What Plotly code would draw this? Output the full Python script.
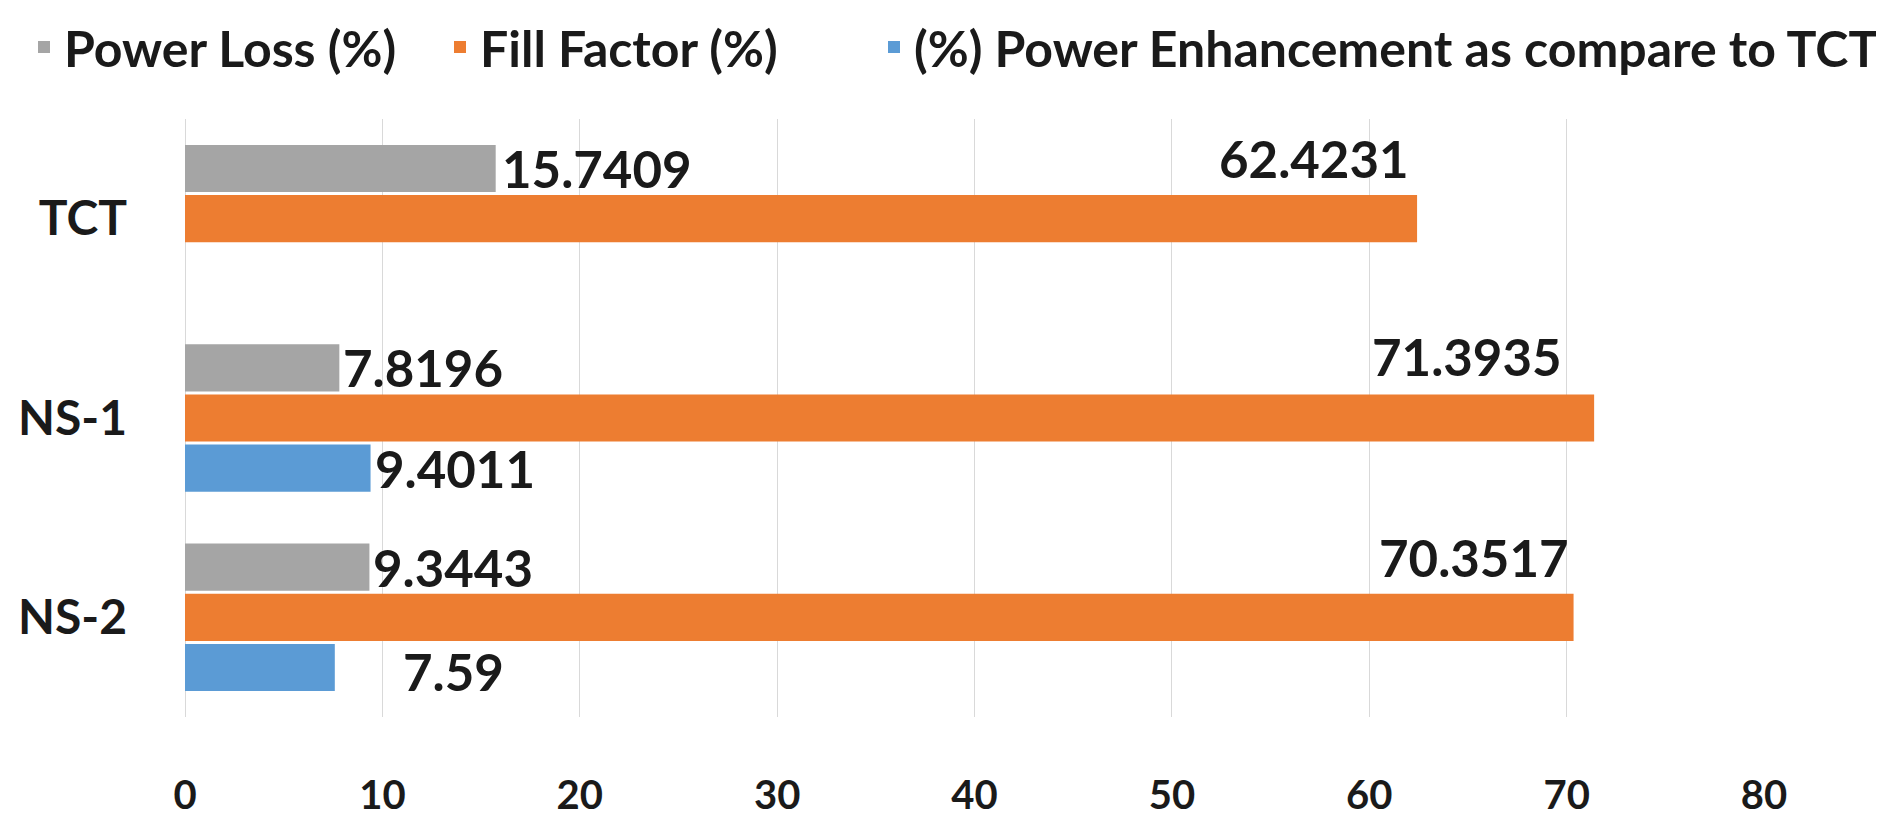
import plotly.graph_objects as go

categories = ["TCT", "NS-1", "NS-2"]
power_loss = [15.7409, 7.8196, 9.3443]
fill_factor = [62.4231, 71.3935, 70.3517]
power_enh = [None, 9.4011, 7.59]
series_names = ["Power Loss (%)", "Fill Factor (%)", "(%) Power Enhancement as compare to TCT"]
x_ticks = [0, 10, 20, 30, 40, 50, 60, 70, 80]

colors = ["#A5A5A5", "#ED7D31", "#5B9BD5"]
FONT = "Lato, 'Liberation Sans', Arial, sans-serif"
BARGAP = 0.245
W, H = 1884, 840
ML, MR, MT, MB = 177, 128, 111, 131

legend_ids = ["legend", "legend2", "legend3"]
legend_left_px = [16, 432, 866]   # left edge of each legend entry (container pixels)

fig = go.Figure()
all_series = [power_loss, fill_factor, power_enh]
for name, vals, col, lid in zip(series_names, all_series, colors, legend_ids):
    fig.add_trace(go.Bar(
        y=categories, x=vals, orientation="h", name=name,
        marker=dict(color=col, line=dict(width=0)),
        hoverinfo="x+name", legend=lid,
    ))

# label style offsets (pixels) per series / category
label_style = {
    0: dict(xanchor="left", xshift=[4, 2, 2], yshift=[0, 0, 0]),
    1: dict(xanchor="right", xshift=[-6, -30, -3], yshift=[60, 62, 60]),
    2: dict(xanchor="left", xshift=[2, 2, 66], yshift=[0, 0, -4]),
}
slot = (1 - BARGAP) / 3
annotations = []
for k, vals in enumerate(all_series):
    st = label_style[k]
    for i, v in enumerate(vals):
        if v is None:
            continue
        annotations.append(dict(
            x=v, y=i + (k - 1) * slot, xref="x", yref="y",
            text=str(v), showarrow=False,
            xanchor=st["xanchor"], yanchor="middle",
            xshift=st["xshift"][i], yshift=st["yshift"][i],
            font=dict(family=FONT, size=51, color="#1a1a1a", weight="bold"),
        ))

legend_font = dict(family=FONT, size=50, color="#1a1a1a", weight="bold")
legends = {}
for lid, lx in zip(legend_ids, legend_left_px):
    legends[lid] = dict(
        orientation="h", xref="container", yref="container",
        x=lx / W, y=1.0, xanchor="left", yanchor="top",
        font=legend_font, itemwidth=30, bgcolor="rgba(0,0,0,0)",
    )

fig.update_layout(
    width=W, height=H,
    margin=dict(l=ML, r=MR, t=MT, b=MB, autoexpand=False),
    paper_bgcolor="white", plot_bgcolor="white",
    barmode="group", bargap=BARGAP, bargroupgap=0.06,
    font=dict(family=FONT, color="#1a1a1a", weight="bold"),
    xaxis=dict(
        range=[0, 80], tickvals=x_ticks, ticktext=[str(t) for t in x_ticks],
        showgrid=True, gridcolor="#D9D9D9", gridwidth=1,
        zeroline=True, zerolinecolor="#D9D9D9", zerolinewidth=1,
        showline=False, ticks="", ticklabelstandoff=51,
        tickfont=dict(family=FONT, size=40, color="#1a1a1a", weight="bold"),
        fixedrange=True,
    ),
    yaxis=dict(
        type="category", categoryorder="array", categoryarray=categories,
        autorange="reversed", showgrid=False, zeroline=False, showline=False,
        ticks="", ticklabelstandoff=57,
        tickfont=dict(family=FONT, size=48, color="#1a1a1a", weight="bold"),
        fixedrange=True,
    ),
    annotations=annotations,
    showlegend=True,
    **legends,
)

fig.write_html("out.html")
